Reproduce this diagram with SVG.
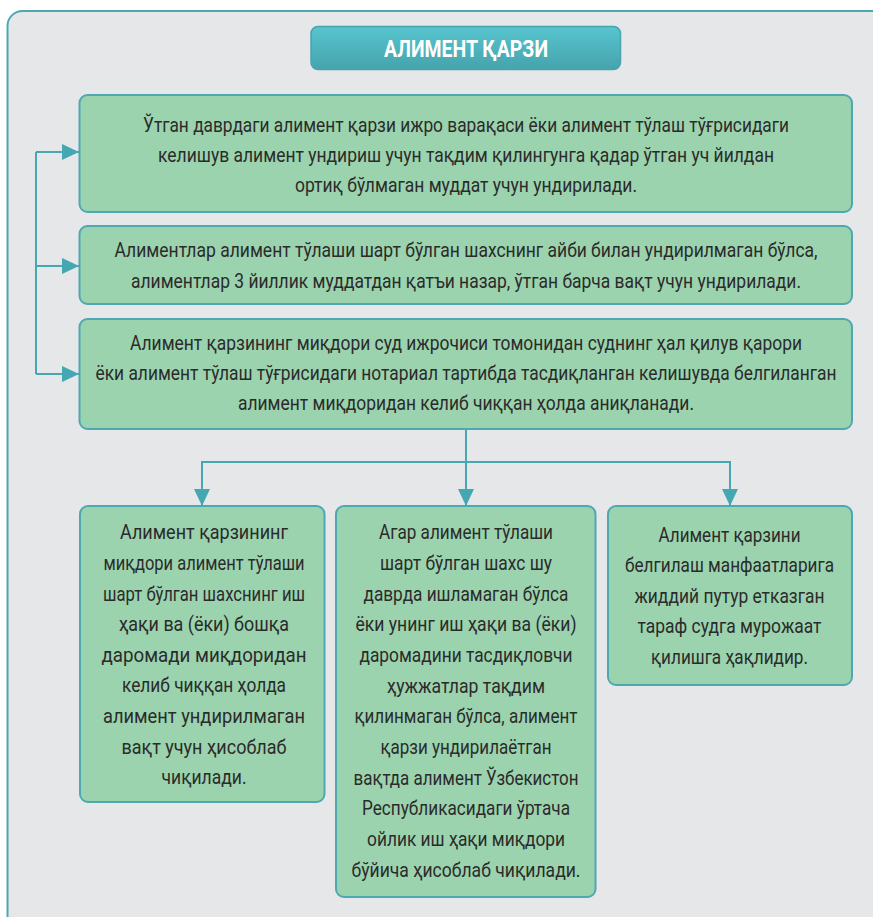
<svg xmlns="http://www.w3.org/2000/svg" width="873" height="917" viewBox="0 0 873 917">
<style>
.bg{fill:#e6e7e9;stroke:#4aa9b4;stroke-width:2}
.box{fill:#9bd3ae;stroke:#4ea8b2;stroke-width:2}
.t{font-family:"Liberation Sans Narrow","Roboto","DejaVu Sans",sans-serif;font-size:20px;fill:#2b2b2b;text-anchor:middle}
.title{font-family:"Liberation Sans Narrow","Roboto","DejaVu Sans",sans-serif;font-size:24px;font-weight:bold;fill:#ffffff;text-anchor:middle}
.con{fill:none;stroke:#45a7b2;stroke-width:2}
</style>
<defs>
<linearGradient id="tg" x1="0" y1="0" x2="0" y2="1">
<stop offset="0" stop-color="#57c5cf"/>
<stop offset="1" stop-color="#46a3ac"/>
</linearGradient>
<marker id="ah" markerUnits="userSpaceOnUse" markerWidth="17" markerHeight="16" refX="17" refY="8" orient="auto">
<path d="M0,0 L17,8 L0,16 z" fill="#45a7b2"/>
</marker>
</defs>
<rect class="bg" x="7.5" y="11" width="880" height="930" rx="15"/>
<g id="title">
<rect x="311" y="26.5" width="309.5" height="43" rx="7" fill="url(#tg)" stroke="#4aa4ad" stroke-width="1.5"/>
<text class="title" x="466" y="57" textLength="164" lengthAdjust="spacingAndGlyphs">АЛИМЕНТ ҚАРЗИ</text>
</g>
<g id="connectors">
<path class="con" d="M36 152 V374"/>
<path class="con" d="M36 152 H79" marker-end="url(#ah)"/>
<path class="con" d="M36 266 H79" marker-end="url(#ah)"/>
<path class="con" d="M36 374 H79" marker-end="url(#ah)"/>
<path class="con" d="M466 429 V506" marker-end="url(#ah)"/>
<path class="con" d="M202 462 H730"/>
<path class="con" d="M202 461 V506" marker-end="url(#ah)"/>
<path class="con" d="M730 461 V506" marker-end="url(#ah)"/>
</g>
<g id="node1">
<rect class="box" x="79.5" y="95" width="772.5" height="117" rx="8"/>
<text class="t" x="466" y="131.5" textLength="646" lengthAdjust="spacingAndGlyphs">Ўтган даврдаги алимент қарзи ижро варақаси ёки алимент тўлаш тўғрисидаги</text>
<text class="t" x="466" y="162" textLength="616" lengthAdjust="spacingAndGlyphs">келишув алимент ундириш учун тақдим қилингунга қадар ўтган уч йилдан</text>
<text class="t" x="466" y="192" textLength="342" lengthAdjust="spacingAndGlyphs">ортиқ бўлмаган муддат учун ундирилади.</text>
</g>
<g id="node2">
<rect class="box" x="79.5" y="226" width="772.5" height="78" rx="8"/>
<text class="t" x="466" y="256.5" textLength="703" lengthAdjust="spacingAndGlyphs">Алиментлар алимент тўлаши шарт бўлган шахснинг айби билан ундирилмаган бўлса,</text>
<text class="t" x="466" y="287.5" textLength="670" lengthAdjust="spacingAndGlyphs">алиментлар 3 йиллик муддатдан қатъи назар, ўтган барча вақт учун ундирилади.</text>
</g>
<g id="node3">
<rect class="box" x="79.5" y="319" width="772.5" height="110" rx="8"/>
<text class="t" x="466" y="349.5" textLength="672" lengthAdjust="spacingAndGlyphs">Алимент қарзининг миқдори суд ижрочиси томонидан суднинг ҳал қилув қарори</text>
<text class="t" x="466" y="380" textLength="741" lengthAdjust="spacingAndGlyphs">ёки алимент тўлаш тўғрисидаги нотариал тартибда тасдиқланган келишувда белгиланган</text>
<text class="t" x="466" y="410" textLength="456" lengthAdjust="spacingAndGlyphs">алимент миқдоридан келиб чиққан ҳолда аниқланади.</text>
</g>
<g id="node4">
<rect class="box" x="80" y="506" width="244.5" height="296" rx="8"/>
<text class="t" x="204" y="539.3" textLength="168" lengthAdjust="spacingAndGlyphs">Алимент қарзининг</text>
<text class="t" x="204" y="570" textLength="201" lengthAdjust="spacingAndGlyphs">миқдори алимент тўлаши</text>
<text class="t" x="204" y="600.5" textLength="202" lengthAdjust="spacingAndGlyphs">шарт бўлган шахснинг иш</text>
<text class="t" x="204" y="631" textLength="170" lengthAdjust="spacingAndGlyphs">ҳақи ва (ёки) бошқа</text>
<text class="t" x="204" y="661.7" textLength="205" lengthAdjust="spacingAndGlyphs">даромади миқдоридан</text>
<text class="t" x="204" y="692.3" textLength="164" lengthAdjust="spacingAndGlyphs">келиб чиққан ҳолда</text>
<text class="t" x="204" y="723" textLength="202" lengthAdjust="spacingAndGlyphs">алимент ундирилмаган</text>
<text class="t" x="204" y="753.5" textLength="165" lengthAdjust="spacingAndGlyphs">вақт учун ҳисоблаб</text>
<text class="t" x="204" y="784" textLength="85" lengthAdjust="spacingAndGlyphs">чиқилади.</text>
</g>
<g id="node5">
<rect class="box" x="336" y="506" width="259.5" height="391" rx="8"/>
<text class="t" x="466" y="539.3" textLength="174" lengthAdjust="spacingAndGlyphs">Агар алимент тўлаши</text>
<text class="t" x="466" y="570" textLength="172" lengthAdjust="spacingAndGlyphs">шарт бўлган шахс шу</text>
<text class="t" x="466" y="600.6" textLength="205" lengthAdjust="spacingAndGlyphs">даврда ишламаган бўлса</text>
<text class="t" x="466" y="631.3" textLength="221" lengthAdjust="spacingAndGlyphs">ёки унинг иш ҳақи ва (ёки)</text>
<text class="t" x="466" y="662" textLength="213" lengthAdjust="spacingAndGlyphs">даромадини тасдиқловчи</text>
<text class="t" x="466" y="692.6" textLength="158" lengthAdjust="spacingAndGlyphs">ҳужжатлар тақдим</text>
<text class="t" x="466" y="723.3" textLength="223" lengthAdjust="spacingAndGlyphs">қилинмаган бўлса, алимент</text>
<text class="t" x="466" y="754" textLength="171" lengthAdjust="spacingAndGlyphs">қарзи ундирилаётган</text>
<text class="t" x="466" y="784.6" textLength="225" lengthAdjust="spacingAndGlyphs">вақтда алимент Ўзбекистон</text>
<text class="t" x="466" y="815.3" textLength="208" lengthAdjust="spacingAndGlyphs">Республикасидаги ўртача</text>
<text class="t" x="466" y="846" textLength="198" lengthAdjust="spacingAndGlyphs">ойлик иш ҳақи миқдори</text>
<text class="t" x="466" y="876.7" textLength="229" lengthAdjust="spacingAndGlyphs">бўйича ҳисоблаб чиқилади.</text>
</g>
<g id="node6">
<rect class="box" x="608" y="506" width="244" height="179" rx="8"/>
<text class="t" x="729.5" y="541.5" textLength="142" lengthAdjust="spacingAndGlyphs">Алимент қарзини</text>
<text class="t" x="729.5" y="572" textLength="209" lengthAdjust="spacingAndGlyphs">белгилаш манфаатларига</text>
<text class="t" x="729.5" y="602.5" textLength="190" lengthAdjust="spacingAndGlyphs">жиддий путур етказган</text>
<text class="t" x="729.5" y="633" textLength="184" lengthAdjust="spacingAndGlyphs">тараф судга мурожаат</text>
<text class="t" x="729.5" y="663.5" textLength="157" lengthAdjust="spacingAndGlyphs">қилишга ҳақлидир.</text>
</g>
</svg>
